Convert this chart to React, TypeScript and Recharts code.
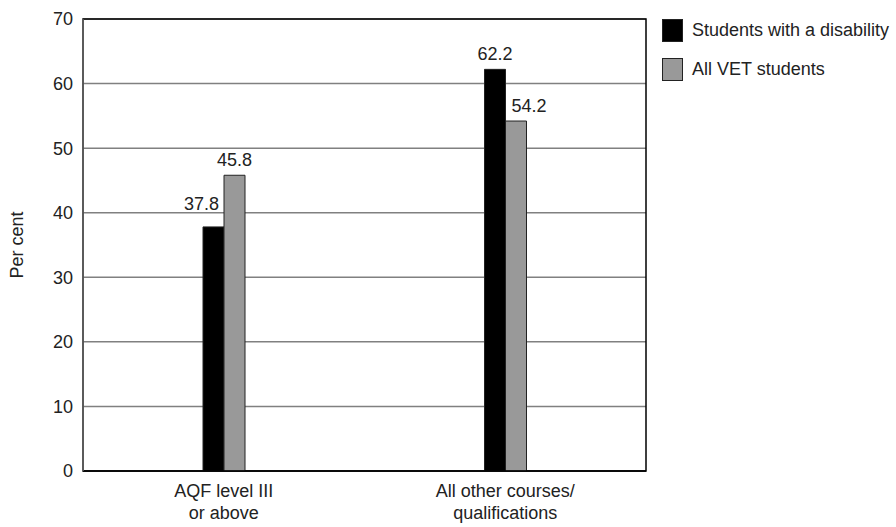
import { BarChart, Bar, XAxis, YAxis, CartesianGrid, ReferenceArea, LabelList } from 'recharts';

const CATEGORIES = ['AQF level III\nor above', 'All other courses/\nqualifications'];
const DISABILITY = [37.8, 62.2];
const ALL_VET = [45.8, 54.2];
const Y_TICKS = [0, 10, 20, 30, 40, 50, 60, 70];

const SERIES = [
  { key: 'disability', name: 'Students with a disability', fill: '#000000' },
  { key: 'allVet', name: 'All VET students', fill: '#999999' },
];

const FONT = '"Liberation Sans", Arial, sans-serif';
const TEXT = '#222';
const FS = 18;

const data = CATEGORIES.map((c, i) => ({
  category: c,
  disability: DISABILITY[i],
  allVet: ALL_VET[i],
}));

// Value label: when a bar is shorter than its neighbour, nudge the label outward
// so it doesn't collide with the taller bar.
function makeLabel(seriesIdx: number) {
  return (props: any) => {
    const { x, y, width, value, index } = props;
    const own = seriesIdx === 0 ? DISABILITY[index] : ALL_VET[index];
    const other = seriesIdx === 0 ? ALL_VET[index] : DISABILITY[index];
    let dx = 0;
    let dy = 0;
    if (own < other) {
      dx = seriesIdx === 0 ? -12 : 13;
      if (seriesIdx === 0) dy = -8;
    }
    return (
      <text
        x={x + width / 2 + dx}
        y={y - 9 + dy}
        textAnchor="middle"
        fontSize={FS}
        fontFamily={FONT}
        fill={TEXT}
      >
        {value}
      </text>
    );
  };
}

function CategoryTick({ x, y, payload }: any) {
  const lines = String(payload.value).split('\n');
  return (
    <text x={x} y={y} textAnchor="middle" fontSize={FS} fontFamily={FONT} fill={TEXT}>
      {lines.map((l, i) => (
        <tspan key={i} x={x} dy={i === 0 ? 18 : 22}>
          {l}
        </tspan>
      ))}
    </text>
  );
}

function LegendBox() {
  return (
    <div
      style={{
        position: 'absolute',
        left: 662,
        top: 19,
        fontFamily: FONT,
        fontSize: FS,
        color: TEXT,
        whiteSpace: 'nowrap',
      }}
    >
      {SERIES.map((s) => (
        <div key={s.key} style={{ display: 'flex', alignItems: 'center', height: 23, marginBottom: 16 }}>
          <div
            style={{
              width: 19,
              height: 21,
              background: s.fill,
              border: '1px solid #222',
              marginRight: 9,
            }}
          />
          <span>{s.name}</span>
        </div>
      ))}
    </div>
  );
}

export default function App() {
  return (
    <div style={{ position: 'relative', width: 896, height: 527, background: '#fff' }}>
      <style>{`body{margin:0}`}</style>
      <BarChart
        width={896}
        height={527}
        data={data}
        margin={{ top: 19, right: 250, bottom: 0, left: 0 }}
        barGap={0}
        barSize={21}
      >
        <CartesianGrid vertical={false} stroke="#808080" strokeWidth={1.5} />
        <ReferenceArea y1={0} y2={70} fill="none" stroke="#000" strokeWidth={1.5} ifOverflow="visible" />
        <XAxis
          dataKey="category"
          tick={<CategoryTick />}
          tickLine={false}
          axisLine={{ stroke: '#000', strokeWidth: 1.5 }}
          interval={0}
          height={56}
        />
        <YAxis
          domain={[0, 70]}
          ticks={Y_TICKS}
          width={83}
          tickLine={false}
          tickSize={0}
          tickMargin={10}
          axisLine={{ stroke: '#666', strokeWidth: 1.5 }}
          tick={{ fontSize: FS, fontFamily: FONT, fill: TEXT }}
          label={{
            value: 'Per cent',
            angle: -90,
            position: 'insideLeft',
            offset: 17,
            style: { fontSize: FS, fontFamily: FONT, fill: TEXT, textAnchor: 'middle' },
          }}
        />
        {SERIES.map((s, i) => (
          <Bar
            key={s.key}
            dataKey={s.key}
            name={s.name}
            fill={s.fill}
            stroke="#222"
            strokeWidth={1}
            isAnimationActive={false}
          >
            <LabelList dataKey={s.key} content={makeLabel(i)} />
          </Bar>
        ))}
      </BarChart>
      <LegendBox />
    </div>
  );
}
